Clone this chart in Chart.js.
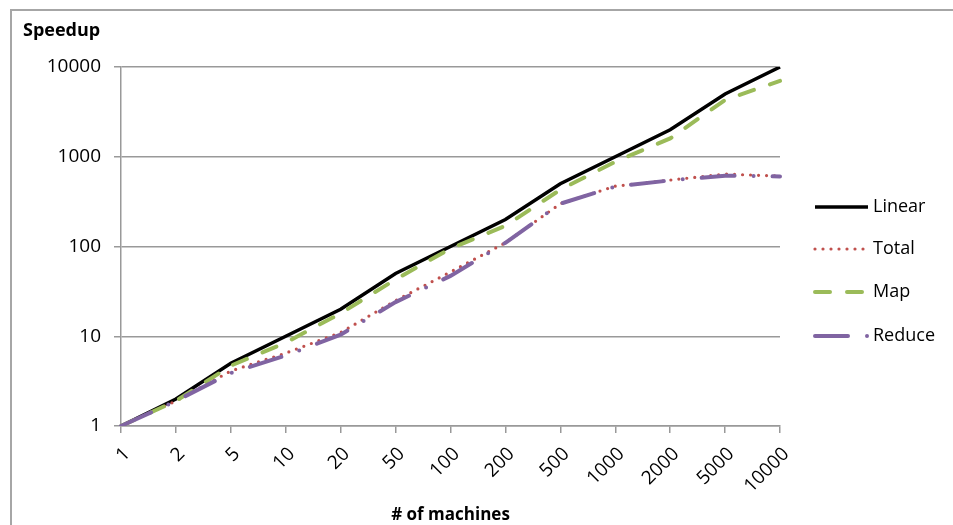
<!DOCTYPE html>
<html>
<head>
<meta charset="utf-8">
<script src="https://cdn.jsdelivr.net/npm/chart.js@4"></script>
<style>
  html, body { margin: 0; padding: 0; background: #fff; }
  #wrap { position: relative; width: 953px; height: 525px; }
</style>
</head>
<body>
<div id="wrap"><canvas id="speedChart" width="953" height="525"></canvas></div>
<script>
// data
const machines = ['1', '2', '5', '10', '20', '50', '100', '200', '500', '1000', '2000', '5000', '10000'];
const linear = [1, 2, 5, 10, 20, 50, 100, 200, 500, 1000, 2000, 5000, 10000];
const total  = [1, 1.9, 4.1, 6.5, 11, 25, 52, 110, 300, 470, 550, 640, 610];
const mapPh  = [1, 1.9, 4.7, 8.5, 18, 43, 95, 170, 430, 880, 1600, 4300, 7000];
const reduce = [1, 1.9, 3.9, 6.1, 10.4, 24, 47, 110, 300, 465, 545, 615, 603];
const yTicks = [1, 10, 100, 1000, 10000];

const FONT = "'Open Sans', 'DejaVu Sans', sans-serif";
const GRID = '#999';

// frame, y title and the right-hand legend are drawn by hand
const decor = {
    id: 'decor',
    beforeDraw(chart) {
        const ctx = chart.ctx;
        ctx.save();
        ctx.strokeStyle = '#a6a6a6';
        ctx.lineWidth = 2;
        ctx.beginPath();
        ctx.moveTo(11, 600);
        ctx.lineTo(11, 10);
        ctx.lineTo(1000, 10);
        ctx.stroke();
        ctx.fillStyle = '#000';
        ctx.font = 'bold 18px ' + FONT;
        ctx.textBaseline = 'middle';
        ctx.fillText('Speedup', 23, 31);
        ctx.restore();
    },
    afterDraw(chart) {
        const ctx = chart.ctx;
        const rows = [207, 249, 292, 336];
        ctx.save();
        chart.data.datasets.forEach((ds, i) => {
            const y = rows[i];
            ctx.strokeStyle = ds.borderColor;
            ctx.lineWidth = ds.borderWidth;
            ctx.lineCap = ds.borderCapStyle || 'butt';
            ctx.setLineDash(ds.borderDash || []);
            ctx.lineDashOffset = 0;
            ctx.beginPath();
            ctx.moveTo(815, y);
            ctx.lineTo(868, y);
            ctx.stroke();
            ctx.setLineDash([]);
            ctx.fillStyle = '#000';
            ctx.font = '18px ' + FONT;
            ctx.textBaseline = 'middle';
            ctx.fillText(ds.label, 873, y);
        });
        ctx.restore();
    }
};

new Chart(document.getElementById('speedChart'), {
    type: 'line',
    data: {
        labels: machines,
        datasets: [
            { label: 'Linear', data: linear, borderColor: '#000', borderWidth: 3.5, order: 4 },
            { label: 'Total', data: total, borderColor: '#c0504d', borderWidth: 3.2, borderDash: [0, 8], borderCapStyle: 'round', order: 3 },
            { label: 'Map', data: mapPh, borderColor: '#9bbb59', borderWidth: 4, borderDash: [15, 17], borderCapStyle: 'round', order: 2 },
            { label: 'Reduce', data: reduce, borderColor: '#8064a2', borderWidth: 4, borderDash: [33, 19, 0, 19], borderCapStyle: 'round', order: 1 }
        ]
    },
    options: {
        responsive: false,
        animation: false,
        devicePixelRatio: 1,
        layout: { padding: { top: 67, right: 173, left: 0, bottom: 0 } },
        elements: { point: { radius: 0 }, line: { tension: 0, fill: false } },
        plugins: { legend: { display: false }, tooltip: { enabled: false } },
        scales: {
            x: {
                offset: false,
                grid: { drawOnChartArea: false, drawTicks: true, tickLength: 7, color: GRID, lineWidth: 1.5 },
                border: { color: GRID, width: 1.5 },
                ticks: { color: '#000', font: { family: FONT, size: 19 }, minRotation: 45, maxRotation: 45, padding: 10, labelOffset: 6, autoSkip: false },
                title: { display: true, text: '# of machines', color: '#000', font: { family: FONT, size: 17, weight: 'bold' }, padding: { top: 0, bottom: 0 } },
                afterFit: s => { s.height = 99; }
            },
            y: {
                type: 'logarithmic',
                min: 1,
                max: 10000,
                grid: { color: GRID, lineWidth: 1.5, tickLength: 7 },
                border: { color: GRID, width: 1.5 },
                ticks: { color: '#000', font: { family: FONT, size: 19 }, padding: 13, callback: v => String(v) },
                afterBuildTicks: s => { s.ticks = yTicks.map(v => ({ value: v })); },
                afterFit: s => { s.width = 121; }
            }
        }
    },
    plugins: [decor]
});
</script>
</body>
</html>
